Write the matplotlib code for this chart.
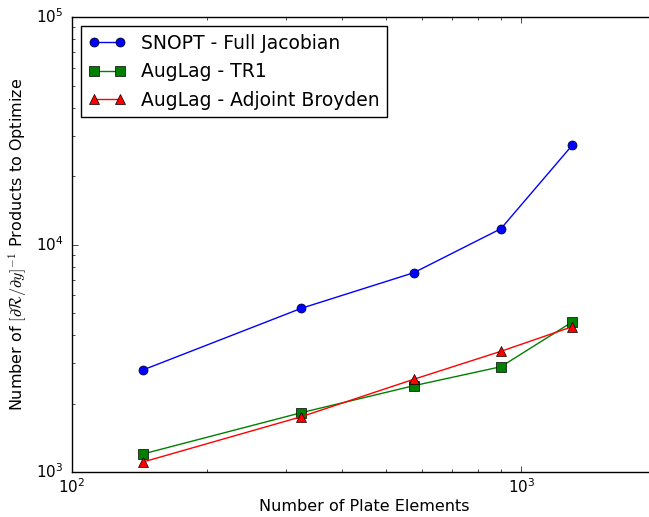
import matplotlib
matplotlib.use("Agg")
import matplotlib.pyplot as plt

elements = [144, 324, 576, 900, 1296]
snopt = [2808, 5243, 7516, 11735, 27290]
tr1 = [1200, 1823, 2395, 2903, 4563]
broyden = [1106, 1750, 2556, 3393, 4351]

plt.style.use('classic')
plt.rcParams['figure.facecolor'] = 'white'
plt.rcParams['savefig.facecolor'] = 'white'

fig = plt.figure(figsize=(6.49, 5.17), dpi=100)
ax = fig.add_axes([0.1102, 0.087, 0.902, 0.880])

ax.loglog(elements, snopt, 'b-o', ms=6.5, label='SNOPT - Full Jacobian')
ax.loglog(elements, tr1, 'g-s', ms=6.5, label='AugLag - TR1')
ax.loglog(elements, broyden, 'r-^', ms=6.5, label='AugLag - Adjoint Broyden')

ax.set_xlim(100, 2000)
ax.set_ylim(1e3, 1e5)
ax.set_xlabel('Number of Plate Elements', fontsize=11.5, labelpad=2)
ax.set_ylabel(r'Number of $[\partial\mathcal{R}/\partial y]^{-1}$ Products to Optimize',
              fontsize=11.5, labelpad=5)
ax.tick_params(labelsize=11)
ax.tick_params(axis='x', pad=4)
ax.tick_params(axis='y', pad=6)
ax.legend(loc='upper left', numpoints=2, fontsize=13.5)

fig.savefig('out.png', dpi=100)
